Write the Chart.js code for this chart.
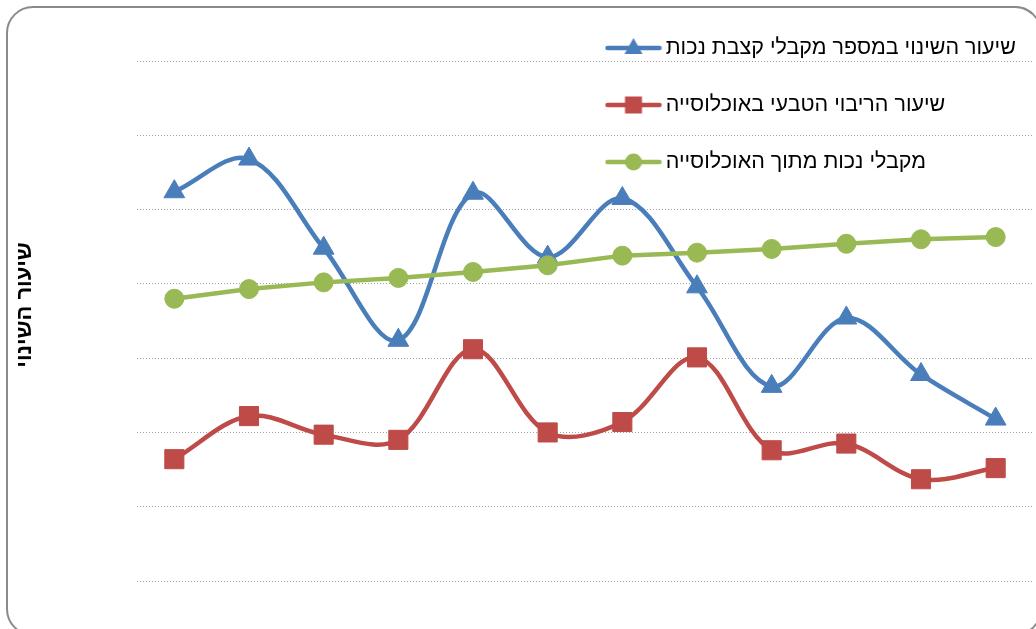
<!DOCTYPE html>
<html>
<head>
<meta charset="utf-8">
<script src="https://cdn.jsdelivr.net/npm/chart.js@4.4.1/dist/chart.umd.min.js"></script>
<style>
html,body{margin:0;padding:0;background:#fff;overflow:hidden;}
#wrap{position:relative;width:1036px;height:629px;overflow:hidden;}
#c{position:absolute;left:0;top:0;}
#frame{position:absolute;left:6px;top:6px;width:1036px;height:630px;border:2px solid #8a8a8a;border-radius:27px;box-sizing:border-box;pointer-events:none;}
</style>
</head>
<body>
<div id="wrap">
<canvas id="c" width="1036" height="629"></canvas>
<div id="frame"></div>
</div>
<script>
// ---- data ----
const categories = ['1','2','3','4','5','6','7','8','9','10','11','12'];
const seriesNames = [
  'שיעור השינוי במספר מקבלי קצבת נכות',
  'שיעור הריבוי הטבעי באוכלוסייה',
  'מקבלי נכות מתוך האוכלוסייה'
];
const disabilityChange = [5.24, 5.68, 4.48, 3.24, 5.22, 4.36, 5.15, 3.96, 2.62, 3.54, 2.78, 2.18];
const naturalGrowth    = [1.64, 2.22, 1.97, 1.90, 3.12, 2.00, 2.14, 3.01, 1.76, 1.85, 1.37, 1.52];
const recipientsShare  = [3.80, 3.93, 4.02, 4.08, 4.16, 4.25, 4.38, 4.42, 4.47, 4.54, 4.60, 4.63];
const axisTitle = 'שיעור השינוי';

// ---- styles ----
const BLUE = '#4a7ebb', RED = '#be4b48', GREEN = '#98b954';
const FONT = "'Liberation Sans', Arial, 'DejaVu Sans', sans-serif";
const Y_MAX = 7 * 552 / 520;
const LEG_FONT = 21.5, LEG_PAD = 35.5;

function legendSample(color, style) {
  const c = document.createElement('canvas');
  c.width = 58; c.height = 26;
  const g = c.getContext('2d');
  g.strokeStyle = color; g.fillStyle = color;
  g.lineWidth = 4.5; g.lineCap = 'round';
  g.beginPath(); g.moveTo(3, 13); g.lineTo(55, 13); g.stroke();
  const x = 29, y = 13;
  g.beginPath();
  if (style === 'triangle') {
    g.moveTo(x, y - 10); g.lineTo(x + 9, y + 6); g.lineTo(x - 9, y + 6); g.closePath();
  } else if (style === 'rect') {
    g.rect(x - 8.5, y - 8.5, 17, 17);
  } else {
    g.arc(x, y, 8.5, 0, Math.PI * 2);
  }
  g.fill();
  return c;
}
const samples = [legendSample(BLUE, 'triangle'), legendSample(RED, 'rect'), legendSample(GREEN, 'circle')];

const legendPlace = {
  id: 'legendPlace',
  afterLayout(chart) {
    const l = chart.legend;
    if (!l) return;
    const w = l.width;
    l.left = 612 - LEG_PAD; l.right = l.left + w;
    l.top = 37.25 - LEG_PAD; l.bottom = 552; l.height = 552 - l.top;
  }
};

new Chart(document.getElementById('c'), {
  type: 'line',
  data: {
    labels: categories,
    datasets: [
      { label: seriesNames[0], data: disabilityChange, borderColor: BLUE, backgroundColor: BLUE,
        borderWidth: 4.5, tension: 0.35, pointStyle: 'triangle', pointRadius: 12, pointBorderWidth: 1,
        pointBackgroundColor: BLUE, pointBorderColor: BLUE, order: 3 },
      { label: seriesNames[1], data: naturalGrowth, borderColor: RED, backgroundColor: RED,
        borderWidth: 4.5, tension: 0.35, pointStyle: 'rect', pointRadius: 13.5, pointBorderWidth: 1,
        pointBackgroundColor: RED, pointBorderColor: RED, order: 2 },
      { label: seriesNames[2], data: recipientsShare, borderColor: GREEN, backgroundColor: GREEN,
        borderWidth: 4.5, tension: 0, pointStyle: 'circle', pointRadius: 9.5, pointBorderWidth: 1,
        pointBackgroundColor: GREEN, pointBorderColor: GREEN, order: 1 }
    ]
  },
  options: {
    responsive: false,
    animation: false,
    devicePixelRatio: 1,
    layout: { autoPadding: false, padding: { top: 29, bottom: 48, right: 3, left: 0 } },
    plugins: {
      tooltip: { enabled: false },
      legend: {
        position: 'chartArea',
        align: 'start',
        labels: {
          usePointStyle: true,
          pointStyleWidth: 43,
          boxHeight: 18,
          padding: LEG_PAD,
          color: '#000',
          font: { family: FONT, size: LEG_FONT },
          sort: (a, b) => a.datasetIndex - b.datasetIndex,
          generateLabels(chart) {
            const items = Chart.defaults.plugins.legend.labels.generateLabels(chart);
            items.forEach(it => { it.pointStyle = samples[it.datasetIndex]; });
            return items;
          }
        }
      }
    },
    scales: {
      x: {
        display: false,
        offset: true
      },
      y: {
        min: 0, max: Y_MAX,
        ticks: { display: false, stepSize: 1 },
        border: { display: false, dash: [1, 2] },
        grid: {
          drawTicks: false,
          lineWidth: 1,
          color: (ctx) => (ctx.tick && Number.isInteger(ctx.tick.value)) ? '#a3a3a3' : 'rgba(0,0,0,0)'
        },
        title: {
          display: true, text: axisTitle, color: '#000',
          font: { family: FONT, size: 22, weight: 'bold' },
          padding: { top: 12, bottom: 0 }
        },
        afterFit(scale) { scale.width = 137; }
      }
    }
  },
  plugins: [legendPlace]
});
</script>
</body>
</html>
